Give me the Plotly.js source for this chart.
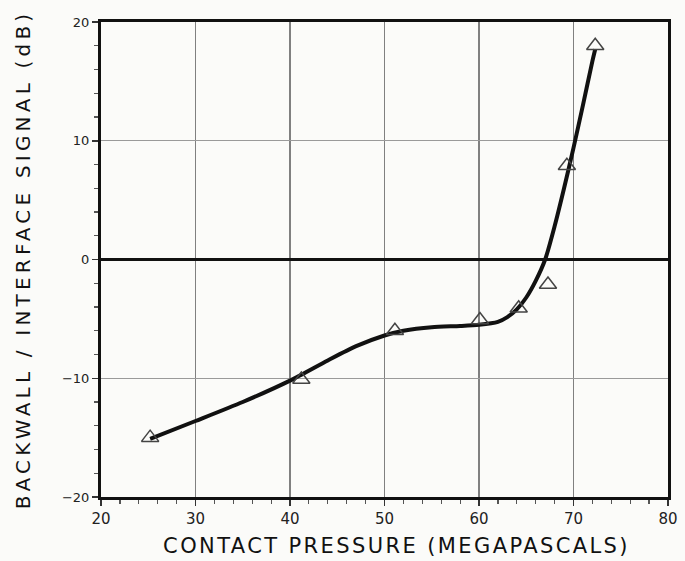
<!DOCTYPE html>
<html>
<head>
<meta charset="utf-8">
<script src="https://cdn.plot.ly/plotly-3.0.1.min.js"></script>
<style>html,body{margin:0;padding:0;background:#fbfbf9;}</style>
</head>
<body>
<div id="chart" style="width:685px;height:561px;"></div>
<script>
// Measured points (triangles)
const pointPressure = [25.2, 41.2, 51.1, 60.1, 64.2, 67.3, 69.3, 72.3];
const pointSignal   = [-15.0, -10.1, -6.0, -5.1, -4.1, -2.1, 7.9, 18.0];

// Fitted curve
const curvePressure = [25.2, 30, 35, 40, 44, 47, 50, 52, 55, 58, 60, 62, 63, 64, 65, 66, 67, 68, 69, 70, 71, 72, 72.3];
const curveSignal   = [-15.1, -13.6, -12.0, -10.2, -8.5, -7.3, -6.4, -6.0, -5.7, -5.6, -5.5, -5.25, -4.85, -4.2, -3.2, -1.8, 0, 2.8, 6.0, 9.4, 13.0, 16.7, 17.7];

const xTickVals = [20, 30, 40, 50, 60, 70, 80];
const yTickVals = [-20, -10, 0, 10, 20];
const yTickText = ['\u221220', '\u221210', '0', '10', '20'];

const traces = [
  {
    x: curvePressure, y: curveSignal, mode: 'lines', type: 'scatter',
    line: {color: '#111', width: 4, shape: 'spline', smoothing: 0.7},
    hoverinfo: 'skip', showlegend: false
  },
  {
    x: pointPressure, y: pointSignal, mode: 'markers', type: 'scatter',
    marker: {symbol: 'triangle-up-open', size: 15, color: '#444', line: {width: 1.5, color: '#444'}},
    showlegend: false
  }
];

const font = 'DejaVu Sans, Liberation Sans, sans-serif';

const layout = {
  width: 685, height: 561,
  margin: {l: 101, r: 17, t: 22, b: 64},
  paper_bgcolor: '#fbfbf9', plot_bgcolor: '#fbfbf9',
  showlegend: false,
  xaxis: {
    range: [20, 80], tickvals: xTickVals, ticktext: xTickVals.map(String),
    showline: true, linecolor: '#111', linewidth: 3, mirror: true,
    ticks: 'outside', ticklen: 6, tickwidth: 1.5, tickcolor: '#333',
    minor: {dtick: 2, tick0: 20, ticks: 'outside', ticklen: 4, tickwidth: 1.2, tickcolor: '#555', showgrid: false},
    showgrid: true, gridcolor: '#808080', gridwidth: 1.5,
    zeroline: false,
    tickfont: {family: font, size: 15, color: '#222'},
    title: {text: 'CONTACT PRESSURE (MEGAPASCALS)', font: {family: font, size: 21, color: '#111'}, standoff: 12}
  },
  yaxis: {
    range: [-20, 20], tickvals: yTickVals, ticktext: yTickText,
    showline: true, linecolor: '#111', linewidth: 3, mirror: true,
    ticks: 'outside', ticklen: 6, tickwidth: 1.5, tickcolor: '#333',
    minor: {dtick: 2, tick0: 0, ticks: 'outside', ticklen: 4, tickwidth: 1.2, tickcolor: '#555', showgrid: false},
    showgrid: true, gridcolor: '#9a9a9a', gridwidth: 1.3,
    zeroline: true, zerolinecolor: '#111', zerolinewidth: 2.5,
    tickfont: {family: font, size: 13, color: '#222'},
    title: {text: 'BACKWALL / INTERFACE SIGNAL (dB)', font: {family: font, size: 20, color: '#111'}, standoff: 26}
  }
};

Plotly.newPlot('chart', traces, layout, {staticPlot: true}).then(function () {
  document.querySelectorAll('.xtitle').forEach(function (el) {
    el.style.letterSpacing = '2.4px';
    el.setAttribute('x', parseFloat(el.getAttribute('x')) + 12);
  });
  document.querySelectorAll('.ytitle').forEach(function (el) { el.style.letterSpacing = '4.2px'; });
});
</script>
</body>
</html>
